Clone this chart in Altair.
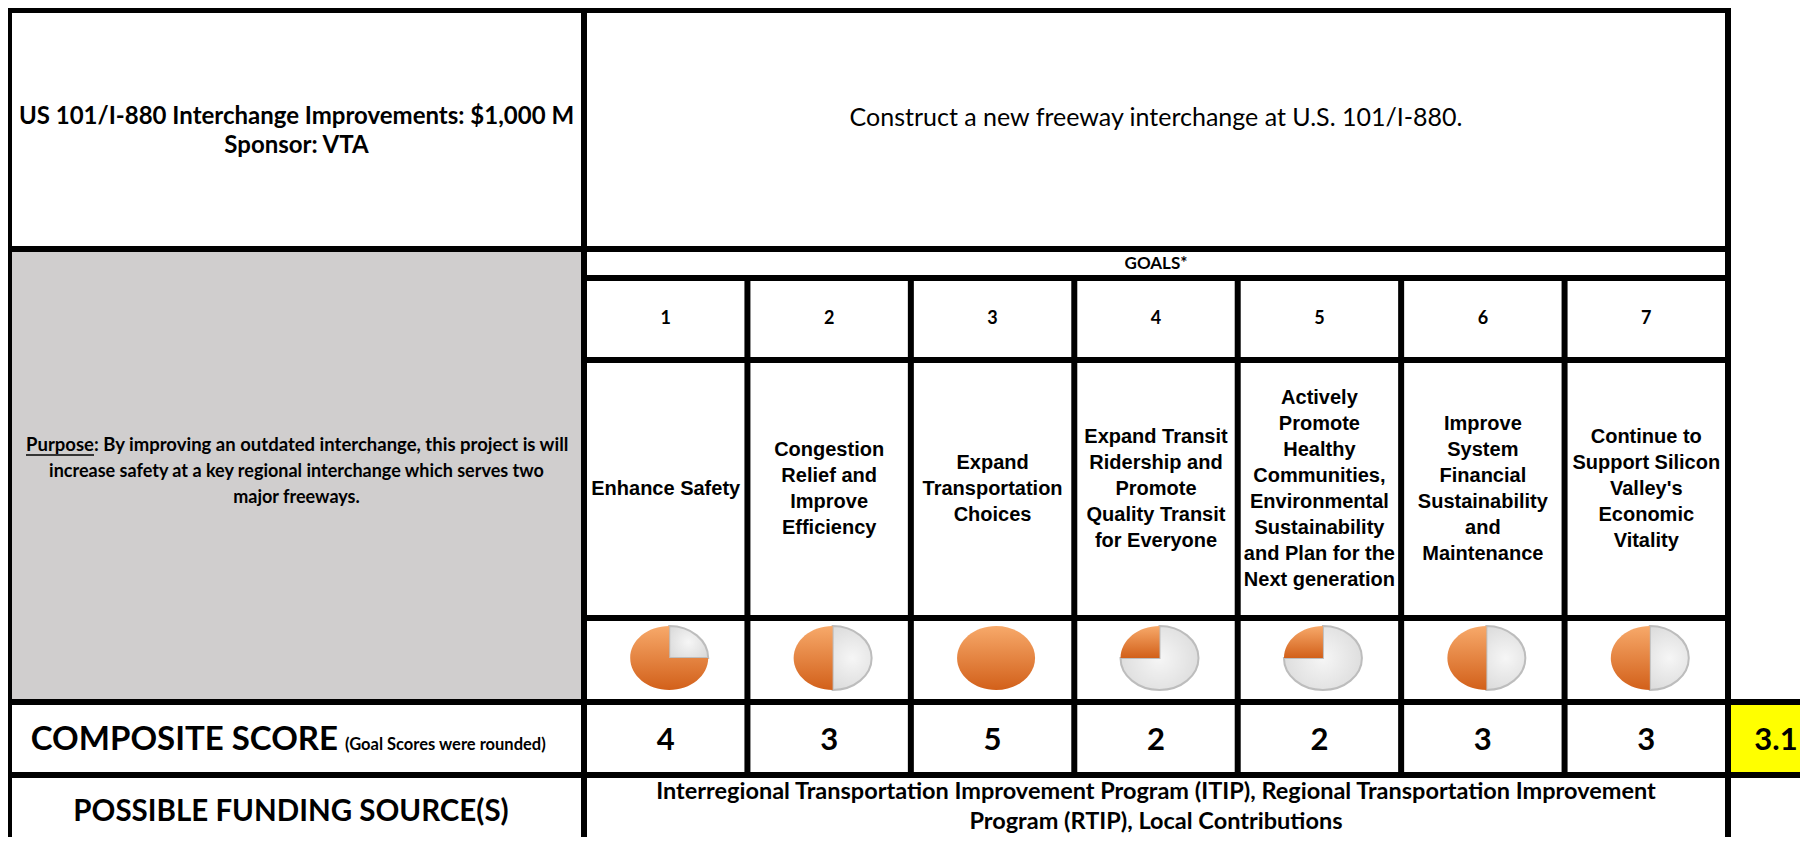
import math
import altair as alt
import pandas as pd

# ---------------- content ----------------
project_title = "US 101/I-880 Interchange Improvements: $1,000 M"
project_sponsor = "Sponsor: VTA"
project_description = "Construct a new freeway interchange at U.S. 101/I-880."
goals_header = "GOALS*"
goal_numbers = [1, 2, 3, 4, 5, 6, 7]
goal_names = [
    ["Enhance Safety"],
    ["Congestion", "Relief and", "Improve", "Efficiency"],
    ["Expand", "Transportation", "Choices"],
    ["Expand Transit", "Ridership and", "Promote", "Quality Transit", "for Everyone"],
    ["Actively", "Promote", "Healthy", "Communities,", "Environmental",
     "Sustainability", "and Plan for the", "Next generation"],
    ["Improve", "System", "Financial", "Sustainability", "and", "Maintenance"],
    ["Continue to", "Support Silicon", "Valley's", "Economic", "Vitality"],
]
goal_scores = [4, 3, 5, 2, 2, 3, 3]
composite_score = 3.1
purpose_label = "Purpose"
purpose_lines = [
    ": By improving an outdated interchange, this project is will",
    "increase safety at a key regional interchange which serves two",
    "major freeways.",
]
composite_label = "COMPOSITE SCORE"
composite_note = "(Goal Scores were rounded)"
funding_label = "POSSIBLE FUNDING SOURCE(S)"
funding_lines = [
    "Interregional Transportation Improvement Program (ITIP), Regional Transportation Improvement",
    "Program (RTIP), Local Contributions",
]

# ---------------- layout (page pixels) ----------------
W, H = 1792, 829
LEFT, SPLIT, RIGHT, EDGE = 9, 584, 1728, 1816
TOP, R_GOALS, R_NUM, R_DESC, R_PIE, R_COMP, R_FUND, BOTTOM = 10, 249, 278, 360, 618, 702, 775, 845
COL_W = (RIGHT - SPLIT) / len(goal_numbers)
LEFT_C = (LEFT + SPLIT) / 2
RIGHT_C = (SPLIT + RIGHT) / 2
NAME_LH = 26


def col_center(i):
    return SPLIT + (i + 0.5) * COL_W


XS = alt.Scale(domain=[8, 8 + W], nice=False, zero=False)
YS = alt.Scale(domain=[8, 8 + H], nice=False, zero=False, reverse=True)


def xy():
    return dict(x=alt.X("x:Q", scale=XS, axis=None), y=alt.Y("y:Q", scale=YS, axis=None))


# ---------------- cells ----------------
cells = pd.DataFrame([
    dict(x=LEFT, x2=SPLIT, y=R_GOALS, y2=R_COMP, color="#D0CECE"),
    dict(x=RIGHT, x2=EDGE, y=R_COMP, y2=R_FUND, color="#FFFF00"),
])
cell_layer = alt.Chart(cells).mark_rect().encode(
    **xy(), x2="x2:Q", y2="y2:Q", fill=alt.Fill("color:N", scale=None)
)

# ---------------- grid lines ----------------
lines = [
    dict(x=LEFT, x2=RIGHT, y=TOP, y2=TOP),
    dict(x=LEFT, x2=RIGHT, y=R_GOALS, y2=R_GOALS),
    dict(x=SPLIT, x2=RIGHT, y=R_NUM, y2=R_NUM),
    dict(x=SPLIT, x2=RIGHT, y=R_DESC, y2=R_DESC),
    dict(x=SPLIT, x2=RIGHT, y=R_PIE, y2=R_PIE),
    dict(x=LEFT, x2=EDGE, y=R_COMP, y2=R_COMP),
    dict(x=LEFT, x2=EDGE, y=R_FUND, y2=R_FUND),
    dict(x=LEFT, x2=LEFT, y=TOP, y2=BOTTOM),
    dict(x=SPLIT, x2=SPLIT, y=TOP, y2=BOTTOM),
    dict(x=RIGHT, x2=RIGHT, y=TOP, y2=BOTTOM),
]
for k in range(1, len(goal_numbers)):
    xk = SPLIT + k * COL_W
    lines.append(dict(x=xk, x2=xk, y=R_NUM, y2=R_FUND))
line_layer = alt.Chart(pd.DataFrame(lines)).mark_rule(
    color="black", strokeWidth=6, strokeCap="square"
).encode(**xy(), x2="x2:Q", y2="y2:Q")


# ---------------- texts ----------------
def text_layer(rows, **style):
    return alt.Chart(pd.DataFrame(rows)).mark_text(**style).encode(**xy(), text="text:N")


CAL = "Lato"
layers = [cell_layer]

layers.append(text_layer(
    [dict(x=LEFT_C, y=117, text=project_title), dict(x=LEFT_C, y=146, text=project_sponsor)],
    font=CAL, fontSize=24, fontWeight="bold", align="center", baseline="middle", color="black"))
layers.append(text_layer(
    [dict(x=RIGHT_C, y=118, text=project_description)],
    font=CAL, fontSize=25, fontWeight="normal", align="center", baseline="middle", color="black"))
layers.append(text_layer(
    [dict(x=RIGHT_C, y=(R_GOALS + R_NUM) / 2, text=goals_header)],
    font=CAL, fontSize=17, fontWeight="bold", align="center", baseline="middle", color="black"))
layers.append(text_layer(
    [dict(x=col_center(i), y=(R_NUM + R_DESC) / 2, text=str(n)) for i, n in enumerate(goal_numbers)],
    font=CAL, fontSize=18, fontWeight="bold", align="center", baseline="middle", color="black"))
name_center = (R_DESC + R_PIE) / 2
layers.append(text_layer(
    [dict(x=col_center(i), y=name_center - (len(nm) - 1) * NAME_LH / 2, text="\n".join(nm))
     for i, nm in enumerate(goal_names)],
    font="Liberation Sans", fontSize=20, fontWeight="bold", align="center", baseline="middle",
    lineBreak="\n", lineHeight=NAME_LH, color="black"))

# purpose text
PURPOSE_SPLIT = 94
layers.append(text_layer(
    [dict(x=PURPOSE_SPLIT, y=445, text=purpose_label)],
    font=CAL, fontSize=18.5, fontWeight="bold", align="right", baseline="middle", color="black"))
layers.append(text_layer(
    [dict(x=PURPOSE_SPLIT, y=445, text=purpose_lines[0])],
    font=CAL, fontSize=18.5, fontWeight="bold", align="left", baseline="middle", color="black"))
layers.append(text_layer(
    [dict(x=LEFT_C, y=472, text=purpose_lines[1]), dict(x=LEFT_C, y=498, text=purpose_lines[2])],
    font=CAL, fontSize=18, fontWeight="bold", align="center", baseline="middle", color="black"))
underline = pd.DataFrame([dict(x=PURPOSE_SPLIT - 68, x2=PURPOSE_SPLIT, y=455, y2=455)])
layers.append(alt.Chart(underline).mark_rule(color="black", strokeWidth=1.4).encode(
    **xy(), x2="x2:Q", y2="y2:Q"))

# composite row
COMP_SPLIT = 338
layers.append(text_layer(
    [dict(x=COMP_SPLIT, y=750, text=composite_label)],
    font=CAL, fontSize=33, fontWeight="bold", align="right", baseline="alphabetic", color="black"))
layers.append(text_layer(
    [dict(x=COMP_SPLIT + 7, y=750, text=composite_note)],
    font=CAL, fontSize=16.5, fontWeight="bold", align="left", baseline="alphabetic", color="black"))
layers.append(text_layer(
    [dict(x=col_center(i), y=750, text=str(s)) for i, s in enumerate(goal_scores)]
    + [dict(x=1776, y=750, text=f"{composite_score:.1f}")],
    font=CAL, fontSize=31, fontWeight="bold", align="center", baseline="alphabetic", color="black"))

# funding row
layers.append(text_layer(
    [dict(x=291, y=812, text=funding_label)],
    font=CAL, fontSize=29.5, fontWeight="bold", align="center", baseline="middle", color="black"))
layers.append(text_layer(
    [dict(x=RIGHT_C, y=792, text=funding_lines[0]), dict(x=RIGHT_C, y=822, text=funding_lines[1])],
    font=CAL, fontSize=23.5, fontWeight="bold", align="center", baseline="middle", color="black"))

# ---------------- Harvey-ball pies ----------------
K = 32 / 39  # vertical / horizontal radius


def sector_path(a0, a1):
    if a1 - a0 >= 0.999:
        return f"M-1,0 A1,{K:.4f} 0 1,1 1,0 A1,{K:.4f} 0 1,1 -1,0 Z"

    def pt(a):
        t = 2 * math.pi * a
        return f"{math.sin(t):.4f},{-K * math.cos(t):.4f}"

    large = 1 if (a1 - a0) > 0.5 else 0
    return f"M0,0 L{pt(a0)} A1,{K:.4f} 0 {large},1 {pt(a1)} Z"


pie_rows = []
for i, s in enumerate(goal_scores):
    frac = (s - 1) / 4
    cx, cy = col_center(i) + 3.5, 658
    if frac < 1:
        pie_rows.append(dict(x=cx, y=cy, part="rest", path=sector_path(0, 1 - frac)))
    if frac > 0:
        pie_rows.append(dict(x=cx, y=cy, part="score", path=sector_path(1 - frac, 1)))
pies = pd.DataFrame(pie_rows)

gray_grad = alt.Gradient(
    gradient="radial",
    stops=[alt.GradientStop(color="#F6F6F6", offset=0), alt.GradientStop(color="#D2D2D2", offset=1)],
    x1=0.5, y1=0.5, r1=0, x2=0.5, y2=0.5, r2=0.75,
)
orange_grad = alt.Gradient(
    gradient="linear",
    stops=[alt.GradientStop(color="#F7A96A", offset=0), alt.GradientStop(color="#D2601A", offset=1)],
    x1=0, y1=0, x2=0, y2=1,
)
layers.append(alt.Chart(pies).transform_filter(alt.datum.part == "rest").mark_point(
    filled=True, fill=gray_grad, stroke="#BDBDBD", strokeWidth=2, opacity=1, size=6084
).encode(**xy(), shape=alt.Shape("path:N", scale=None, legend=None)))
layers.append(alt.Chart(pies).transform_filter(alt.datum.part == "score").mark_point(
    filled=True, fill=orange_grad, strokeWidth=0, opacity=1, size=6084
).encode(**xy(), shape=alt.Shape("path:N", scale=None, legend=None)))

layers.append(line_layer)

chart = alt.layer(*layers).properties(
    width=W, height=H, padding=0, background="white",
    autosize=alt.AutoSizeParams(type="none"),
).configure_view(strokeWidth=0)

chart.save("out.html", embed_options={"renderer": "svg", "actions": False})
